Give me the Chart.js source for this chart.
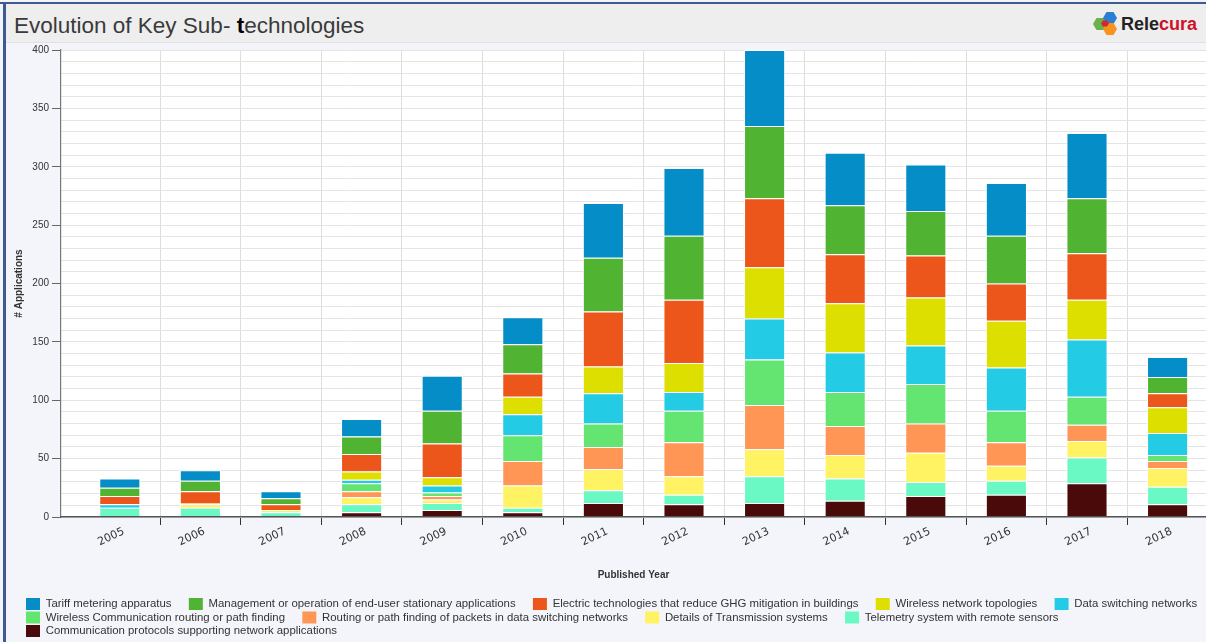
<!DOCTYPE html>
<html><head><meta charset="utf-8">
<script src="https://cdn.jsdelivr.net/npm/chart.js@4.4.0/dist/chart.umd.min.js"></script>
<style>
html,body{margin:0;padding:0;width:1206px;height:642px;overflow:hidden;background:#f4f4fb;}
#wrap{position:relative;width:1206px;height:642px;overflow:hidden;}
canvas{position:absolute;left:0;top:0;}
#frameTop{position:absolute;left:0;top:2px;width:1206px;height:2px;background:#3d5a91;z-index:4;}
#frameLeft{position:absolute;left:3px;top:2px;width:3px;height:640px;background:#3d5a91;z-index:4;}
#titlebar{position:absolute;left:6px;top:4px;width:1200px;height:38px;background:#eeeeee;border-bottom:1px solid #e2e2e2;z-index:3;}
#title{position:absolute;left:8px;top:9px;font-family:"Liberation Sans",Arial,sans-serif;font-size:22.5px;line-height:26px;color:#3a3a3a;white-space:nowrap;}
#title b{color:#000;}
#logo{position:absolute;left:1086px;top:7px;width:28px;height:25px;}
#brand{position:absolute;left:1115px;top:10px;font-family:"Liberation Sans",Arial,sans-serif;font-weight:bold;font-size:18px;line-height:20px;color:#222;white-space:nowrap;}
#brand span{color:#d0102a;}
</style></head>
<body><div id="wrap">
<canvas id="c" width="1206" height="647"></canvas>
<div id="frameTop"></div><div id="frameLeft"></div>
<div id="titlebar">
  <div id="title">Evolution of Key Sub- <b>t</b>echnologies</div>
  <svg id="logo" viewBox="0 0 28 25">
    <polygon points="1,13 4.5,7 11.5,7 15,13 11.5,19 4.5,19" fill="#6ab04c"/>
    <polygon points="11,7 14.5,1 21.5,1 25,7 21.5,13 14.5,13" fill="#2a7fd0"/>
    <polygon points="11,18 14.5,12 21.5,12 25,18 21.5,24 14.5,24" fill="#f7941d"/>
    <polygon points="9,12.5 11,9.5 15,9.5 17,12.5 15,15.5 11,15.5" fill="#d3262f"/>
  </svg>
  <div id="brand">Rele<span>cura</span></div>
</div>
</div>
<script>
const years = ['2005','2006','2007','2008','2009','2010','2011','2012','2013','2014','2015','2016','2017','2018'];

const commProtocols      = [0, 0, 0, 4, 6, 4, 12, 11, 12, 14, 18, 19, 29, 11];
const telemetry          = [8, 8, 4, 7, 6, 4, 11, 8, 23, 19, 12, 12, 22, 15];
const transmission       = [0, 3, 2, 6, 3, 19, 18, 16, 23, 20, 25, 13, 14, 16];
const routingPackets     = [0, 1, 0, 5, 3, 21, 19, 29, 38, 25, 25, 20, 14, 6];
const wirelessRouting    = [0, 0, 0, 7, 3, 22, 20, 27, 39, 29, 34, 27, 24, 5];
const dataSwitching      = [3, 0, 0, 3, 6, 18, 26, 16, 35, 34, 33, 37, 49, 19];
const wirelessTopologies = [0, 0, 0, 7, 7, 15, 23, 25, 44, 42, 41, 40, 34, 22];
const electricGHG        = [7, 10, 5, 15, 29, 20, 47, 54, 59, 42, 36, 32, 40, 12];
const management         = [7, 9, 5, 15, 28, 25, 46, 55, 62, 42, 38, 41, 47, 14];
const tariff             = [8, 9, 6, 15, 30, 23, 47, 58, 65, 45, 40, 45, 56, 17];

const seriesNames = [
  'Communication protocols supporting network applications',
  'Telemetry system with remote sensors',
  'Details of Transmission systems',
  'Routing or path finding of packets in data switching networks',
  'Wireless Communication routing or path finding',
  'Data switching networks',
  'Wireless network topologies',
  'Electric technologies that reduce GHG mitigation in buildings',
  'Management or operation of end-user stationary applications',
  'Tariff metering apparatus'
];
const seriesValues = [commProtocols, telemetry, transmission, routingPackets, wirelessRouting,
  dataSwitching, wirelessTopologies, electricGHG, management, tariff];
const seriesColors = ['#4a0a0a','#6AF9C4','#FFF263','#FF9655','#64E572','#24CBE5','#DDDF00','#ED561B','#50B432','#058DC7'];

const FONT = '"Liberation Sans", Arial, sans-serif';
const GAP = '     ';

const plotBg = {
  id: 'plotBg',
  beforeDraw(chart) {
    const {ctx, chartArea: a} = chart;
    ctx.save();
    ctx.fillStyle = '#ffffff';
    ctx.fillRect(a.left, a.top, a.right - a.left, a.bottom - a.top);
    ctx.restore();
  }
};
// category band starts a little right of the y axis, as in the original
const xInset = {
  id: 'xInset',
  afterLayout(chart) {
    const s = chart.scales.x;
    s._startPixel = chart.chartArea.left + 18.5;
    s._length = 80.6 * years.length;
  }
};

new Chart(document.getElementById('c'), {
  type: 'bar',
  data: {
    labels: years,
    datasets: seriesNames.map((n, i) => ({
      label: n,
      data: seriesValues[i],
      backgroundColor: seriesColors[i],
      borderColor: '#ffffff',
      borderWidth: 1,
      barPercentage: 0.51,
      categoryPercentage: 1
    }))
  },
  options: {
    responsive: false,
    animation: false,
    layout: {padding: {top: 50, left: 24.5, right: -14, bottom: 0}},
    scales: {
      x: {
        stacked: true,
        border: {display: true, color: '#555', width: 1.5, z: 1},
        grid: {
          offset: true,
          color: c => c.index === 0 ? 'rgba(0,0,0,0)' : '#dedede',
          tickColor: c => c.index === 0 ? 'rgba(0,0,0,0)' : '#333',
          tickLength: 8
        },
        ticks: {minRotation: 25, maxRotation: 25, autoSkip: false, padding: 0, labelOffset: 4, color: '#333',
          font: {family: '"DejaVu Sans", Verdana, sans-serif', size: 11}},
        title: {display: true, text: 'Published Year', color: '#333',
          font: {family: FONT, size: 10, weight: 'bold'}, padding: {top: 0, bottom: 15}},
        afterFit(s) { s.height = 79.5; }
      },
      y: {
        stacked: true, min: 0, max: 400,
        border: {display: true, color: '#777', width: 1.2},
        grid: {
          color: '#e4e4e4',
          tickLength: 9,
          tickColor: c => (c.tick && c.tick.value % 50 === 0) ? '#666' : 'rgba(0,0,0,0)'
        },
        ticks: {stepSize: 10, maxTicksLimit: 60, autoSkip: false, padding: 3, color: '#333',
          font: {family: FONT, size: 10},
          callback: v => v % 50 === 0 ? String(v) : ''},
        title: {display: true, text: '# Applications', color: '#333',
          font: {family: FONT, size: 10, weight: 'bold'}, padding: {top: -11, bottom: 0}},
        afterFit(s) { s.width = 36.5; }
      }
    },
    plugins: {
      tooltip: {enabled: false},
      legend: {
        position: 'bottom', align: 'start', reverse: true,
        labels: {
          boxWidth: 14, boxHeight: 12, padding: 1.5, color: '#333',
          font: {family: FONT, size: 11.4},
          generateLabels(chart) {
            const items = Chart.defaults.plugins.legend.labels.generateLabels(chart);
            items.forEach(it => { it.text = it.text + GAP; it.lineWidth = 0; });
            return items;
          }
        }
      }
    }
  },
  plugins: [plotBg, xInset]
});
</script>
</body></html>
